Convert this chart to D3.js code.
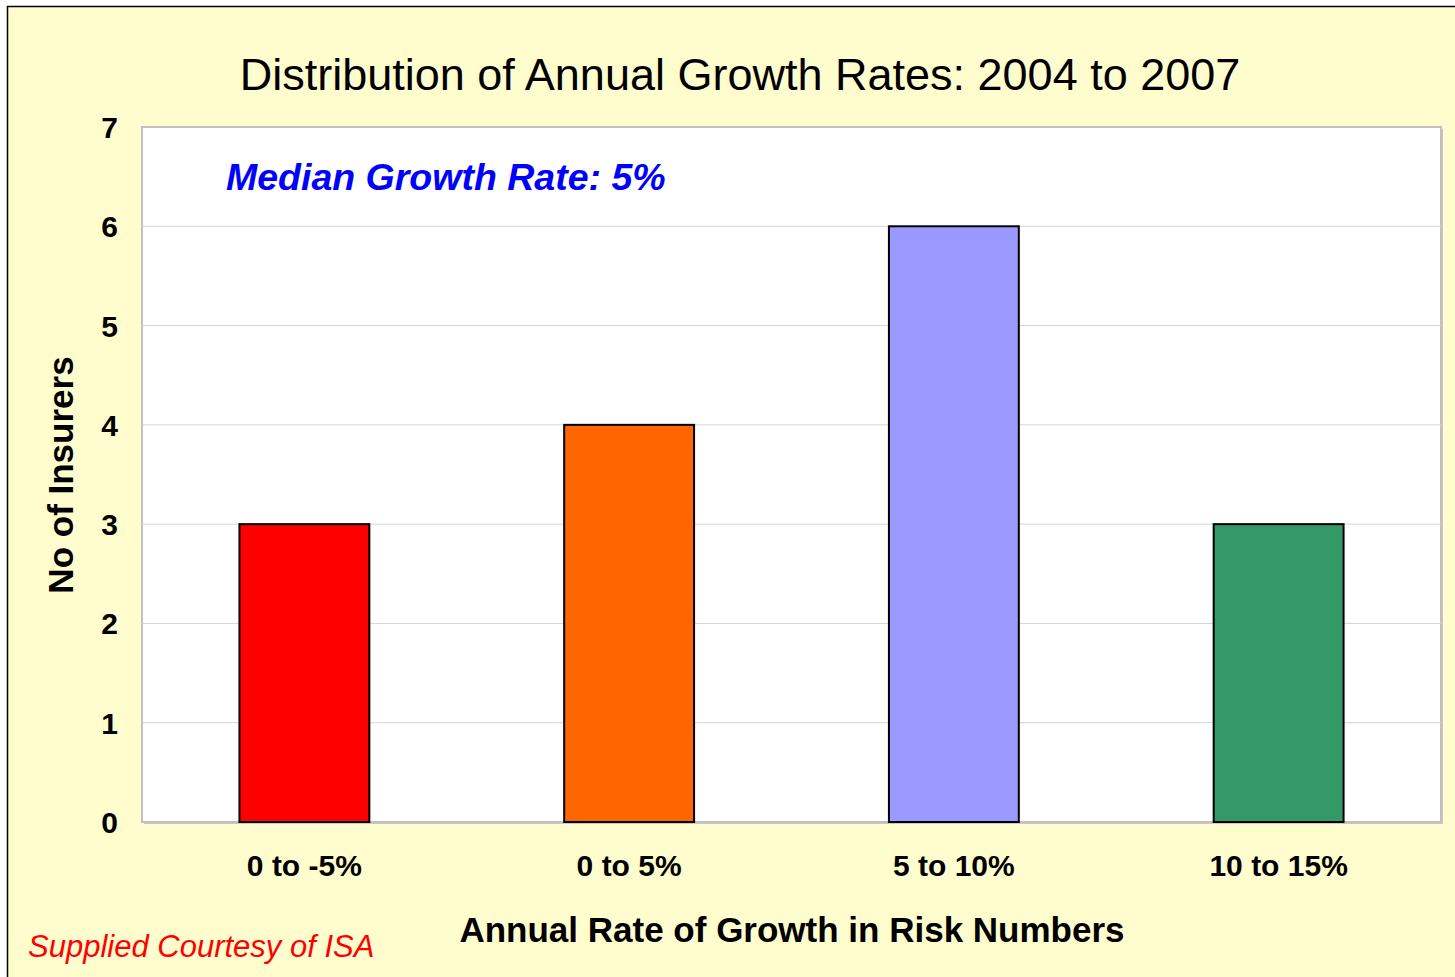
<!DOCTYPE html>
<html><head><meta charset="utf-8">
<script src="https://cdn.jsdelivr.net/npm/d3@7"></script>
<style>html,body{margin:0;padding:0;background:#fff;}svg{display:block;}</style>
</head><body>
<svg id="c" width="1455" height="977"></svg>
<script>
const categories = ["0 to -5%", "0 to 5%", "5 to 10%", "10 to 15%"];
const values = [3, 4, 6, 3];
const barColors = ["#FF0000", "#FF6600", "#9999FF", "#339966"];
const yTicks = [0, 1, 2, 3, 4, 5, 6, 7];
const titleText = "Distribution of Annual Growth Rates: 2004 to 2007";
const xTitle = "Annual Rate of Growth in Risk Numbers";
const yTitle = "No of Insurers";
const note = "Median Growth Rate: 5%";
const credit = "Supplied Courtesy of ISA";

const svg = d3.select("#c");
const font = "'Liberation Sans', Arial, Helvetica, sans-serif";
svg.append("rect").attr("x", 7.5).attr("y", 6.5).attr("width", 1460).attr("height", 980)
  .attr("fill", "#FFFDCD").attr("stroke", "#000").attr("stroke-width", 1.5);

const L = 142, R = 1441, T = 127, B = 822;
const x = d3.scaleBand().domain(categories).range([L, R]).paddingInner(0.6).paddingOuter(0.3);
const y = d3.scaleLinear().domain([0, 7]).range([B, T]);

// plot area with shadow border
svg.append("rect").attr("x", L + 2).attr("y", T + 2).attr("width", R - L).attr("height", B - T).attr("fill", "#c8c8c8");
svg.append("rect").attr("x", L).attr("y", T).attr("width", R - L).attr("height", B - T)
  .attr("fill", "#fff").attr("stroke", "#c0c0c0").attr("stroke-width", 2);

// gridlines
svg.append("g").selectAll("line").data(yTicks.filter(d => d > 0 && d < 7)).join("line")
  .attr("x1", L).attr("x2", R).attr("y1", d => y(d)).attr("y2", d => y(d))
  .attr("stroke", "#d4d4d4").attr("stroke-width", 1);

// y axis
const yAxis = svg.append("g").attr("transform", `translate(${L},0)`)
  .call(d3.axisLeft(y).tickValues(yTicks).tickFormat(d3.format("d")).tickSize(0).tickPadding(24));
yAxis.select(".domain").remove();
yAxis.selectAll("text").attr("font-family", font).attr("font-weight", "bold").attr("font-size", 30).attr("fill", "#000").attr("dy", "0.35em");

// x axis
const xAxis = svg.append("g").attr("transform", `translate(0,${B})`)
  .call(d3.axisBottom(x).tickSize(0).tickPadding(33));
xAxis.select(".domain").remove();
xAxis.selectAll("text").attr("font-family", font).attr("font-weight", "bold").attr("font-size", 30).attr("fill", "#000");

// bars
svg.append("g").selectAll("rect").data(categories).join("rect")
  .attr("x", d => x(d)).attr("width", x.bandwidth())
  .attr("y", (d, i) => y(values[i])).attr("height", (d, i) => y(0) - y(values[i]))
  .attr("fill", (d, i) => barColors[i]).attr("stroke", "#000").attr("stroke-width", 2);

// texts
svg.append("text").attr("x", 740).attr("y", 90).attr("text-anchor", "middle")
  .attr("font-family", font).attr("font-size", 45).attr("fill", "#000").text(titleText);
svg.append("text").attr("x", 792).attr("y", 942).attr("text-anchor", "middle")
  .attr("font-family", font).attr("font-weight", "bold").attr("font-size", 35).attr("fill", "#000").text(xTitle);
svg.append("text").attr("transform", "translate(73,475) rotate(-90)").attr("text-anchor", "middle")
  .attr("font-family", font).attr("font-weight", "bold").attr("font-size", 35).attr("fill", "#000").text(yTitle);
svg.append("text").attr("x", 226).attr("y", 190)
  .attr("font-family", font).attr("font-weight", "bold").attr("font-style", "italic").attr("font-size", 37.5).attr("fill", "#0000FF").text(note);
svg.append("text").attr("x", 28).attr("y", 957)
  .attr("font-family", font).attr("font-style", "italic").attr("font-size", 31).attr("fill", "#FF0000").text(credit);
</script>
</body></html>
